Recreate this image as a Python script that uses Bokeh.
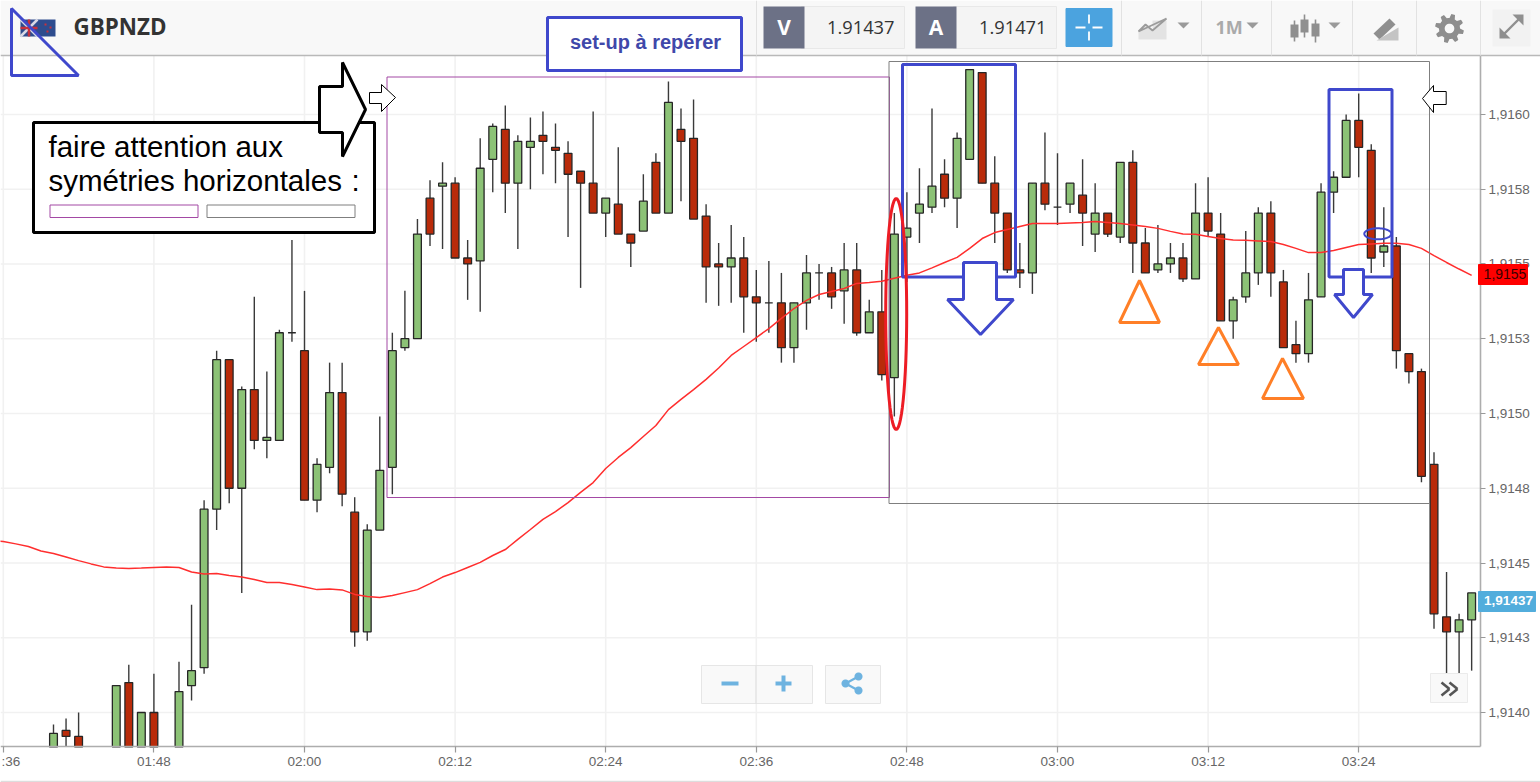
import numpy as np
from bokeh.embed import file_html
from bokeh.resources import INLINE
from bokeh.plotting import figure
from bokeh.models import ColumnDataSource, FixedTicker, Label, PolyAnnotation

# ---------- data ----------
minutes = [100,101,102,105,106,107,108] + list(range(110, 214))
opens = [1.91384,1.91394,1.91392,1.91384,1.91410,1.91384,1.91400,1.91384,1.91409,1.91415,1.91468,1.91518,1.91475,1.91508,1.91491,1.91491,1.91527,1.91521,1.91471,1.91482,1.91507,1.91467,1.91427,1.91461,1.91482,1.91522,1.91525,1.91572,1.91576,1.91577,1.91552,1.91551,1.91585,1.91595,1.91577,1.91589,1.91593,1.91589,1.91587,1.91581,1.91577,1.91567,1.91570,1.91560,1.91561,1.91584,1.91567,1.91595,1.91592,1.91566,1.91550,1.91549,1.91552,1.91539,1.91537,1.91537,1.91522,1.91537,1.91547,1.91547,1.91541,1.91548,1.91527,1.91534,1.91512,1.91559,1.91567,1.91569,1.91580,1.91572,1.91585,1.91614,1.91577,1.91567,1.91548,1.91547,1.91577,1.91569,1.91570,1.91573,1.91560,1.91567,1.91559,1.91584,1.91557,1.91548,1.91550,1.91552,1.91545,1.91567,1.91560,1.91531,1.91539,1.91547,1.91567,1.91544,1.91523,1.91520,1.91539,1.91574,1.91579,1.91598,1.91588,1.91554,1.91556,1.91520,1.91514,1.91483,1.91432,1.91427,1.91431]
highs = [1.91396,1.91398,1.91400,1.91409,1.91416,1.91400,1.91413,1.91417,1.91436,1.91471,1.91521,1.91518,1.91509,1.91539,1.91514,1.91528,1.91558,1.91541,1.91485,1.91517,1.91517,1.91472,1.91463,1.91499,1.91527,1.91541,1.91565,1.91578,1.91584,1.91579,1.91558,1.91592,1.91597,1.91603,1.91593,1.91599,1.91601,1.91597,1.91591,1.91581,1.91601,1.91572,1.91589,1.91560,1.91580,1.91587,1.91611,1.91602,1.91605,1.91570,1.91557,1.91563,1.91559,1.91548,1.91551,1.91547,1.91537,1.91553,1.91550,1.91549,1.91557,1.91557,1.91538,1.91548,1.91567,1.91574,1.91582,1.91602,1.91585,1.91594,1.91615,1.91614,1.91586,1.91567,1.91557,1.91577,1.91594,1.91587,1.91577,1.91585,1.91577,1.91567,1.91584,1.91588,1.91562,1.91563,1.91557,1.91557,1.91577,1.91579,1.91567,1.91539,1.91561,1.91569,1.91571,1.91548,1.91531,1.91547,1.91577,1.91581,1.91600,1.91607,1.91590,1.91569,1.91559,1.91520,1.91515,1.91487,1.91447,1.91433,1.91440]
lows = [1.91380,1.91380,1.91380,1.91380,1.91380,1.91380,1.91380,1.91380,1.91404,1.91413,1.91461,1.91470,1.91440,1.91488,1.91485,1.91491,1.91524,1.91471,1.91467,1.91480,1.91469,1.91422,1.91424,1.91461,1.91473,1.91521,1.91525,1.91556,1.91555,1.91552,1.91538,1.91534,1.91574,1.91567,1.91555,1.91575,1.91580,1.91577,1.91559,1.91542,1.91567,1.91559,1.91560,1.91549,1.91561,1.91567,1.91567,1.91571,1.91565,1.91537,1.91536,1.91537,1.91527,1.91524,1.91527,1.91517,1.91517,1.91528,1.91538,1.91535,1.91530,1.91526,1.91527,1.91511,1.91499,1.91544,1.91557,1.91567,1.91569,1.91562,1.91585,1.91577,1.91557,1.91547,1.91542,1.91540,1.91568,1.91563,1.91567,1.91556,1.91554,1.91559,1.91557,1.91547,1.91547,1.91547,1.91547,1.91544,1.91545,1.91559,1.91531,1.91525,1.91537,1.91543,1.91539,1.91522,1.91517,1.91517,1.91539,1.91567,1.91579,1.91579,1.91547,1.91549,1.91515,1.91510,1.91477,1.91428,1.91413,1.91413,1.91414]
closes = [1.91393,1.91392,1.91384,1.91409,1.91384,1.91400,1.91384,1.91407,1.91414,1.91468,1.91518,1.91475,1.91508,1.91491,1.91492,1.91527,1.91527,1.91471,1.91483,1.91507,1.91473,1.91427,1.91461,1.91481,1.91521,1.91525,1.91560,1.91560,1.91577,1.91552,1.91550,1.91582,1.91596,1.91577,1.91591,1.91591,1.91591,1.91588,1.91580,1.91577,1.91567,1.91572,1.91560,1.91557,1.91571,1.91567,1.91604,1.91591,1.91565,1.91549,1.91549,1.91552,1.91539,1.91537,1.91537,1.91522,1.91537,1.91547,1.91547,1.91539,1.91548,1.91527,1.91534,1.91513,1.91560,1.91562,1.91570,1.91576,1.91572,1.91592,1.91615,1.91577,1.91567,1.91548,1.91547,1.91577,1.91570,1.91569,1.91577,1.91567,1.91567,1.91560,1.91584,1.91557,1.91547,1.91550,1.91552,1.91545,1.91567,1.91561,1.91531,1.91538,1.91547,1.91567,1.91547,1.91522,1.91520,1.91538,1.91574,1.91579,1.91598,1.91589,1.91552,1.91556,1.91521,1.91514,1.91479,1.91433,1.91427,1.91431,1.91440]

ma_minutes = list(range(95, 215))
ma_values = [1.914575,1.914572,1.914564,1.914555,1.914540,1.914532,1.914520,1.914508,1.914497,1.914487,1.914483,1.914482,1.914483,1.914485,1.914487,1.914485,1.914470,1.914463,1.914465,1.914458,1.914453,1.914445,1.914435,1.914435,1.914428,1.914420,1.914411,1.914413,1.914410,1.914395,1.914388,1.914385,1.914391,1.914401,1.914411,1.914431,1.914453,1.914468,1.914485,1.914502,1.914525,1.914545,1.914579,1.914612,1.914646,1.914672,1.914702,1.914736,1.914769,1.914816,1.914853,1.914886,1.914923,1.914960,1.915013,1.915047,1.915080,1.915114,1.915152,1.915194,1.915224,1.915254,1.915284,1.915318,1.915351,1.915378,1.915398,1.915408,1.915418,1.915435,1.915438,1.915442,1.915452,1.915462,1.915470,1.915487,1.915505,1.915522,1.915552,1.915585,1.915605,1.915615,1.915625,1.915635,1.915635,1.915635,1.915637,1.915639,1.915642,1.915639,1.915635,1.915630,1.915625,1.915619,1.915609,1.915600,1.915599,1.915592,1.915585,1.915580,1.915579,1.915577,1.915575,1.915565,1.915552,1.915538,1.915538,1.915545,1.915555,1.915565,1.915567,1.915569,1.915569,1.915565,1.915552,1.915528,1.915505,1.915483,1.915462,1.915452]

y_ticks = [1.9140,1.91425,1.9145,1.91475,1.9150,1.91525,1.9155,1.91575,1.9160]
y_tick_labels = ["1,9140","1,9143","1,9145","1,9148","1,9150","1,9153","1,9155","1,9158","1,9160"]
x_ticks = [96,108,120,132,144,156,168,180,192,204]
x_tick_labels = ["","01:48","02:00","02:12","02:24","02:36","02:48","03:00","03:12","03:24"]

GREEN, RED = "#8CC276", "#B92B0A"
BLUE, ORANGE, PURPLE, GREY = "#3F48CC", "#FF7F27", "#A349A4", "#7F7F7F"

# ---------- figure: the frame fills the canvas; axes are fixed at the chart's edges ----------
W, H = 1540, 782
T_LEFT, T_AXIS, T_RIGHT = 95.777, 213.70, 218.486
P_TOP, P_CHART_TOP, P_AXIS, P_BOTTOM = 1.916381, 1.916197, 1.913885, 1.913766
p = figure(width=W, height=H, output_backend="svg", toolbar_location=None,
           x_range=(T_LEFT, T_RIGHT), y_range=(P_BOTTOM, P_TOP),
           min_border=0, x_axis_location="below", y_axis_location="right",
           background_fill_color="white", border_fill_color="white", outline_line_color=None)
p.grid.visible = False

for ax, ticks, labels in ((p.xaxis[0], x_ticks, x_tick_labels), (p.yaxis[0], y_ticks, y_tick_labels)):
    ax.ticker = FixedTicker(ticks=ticks)
    ax.major_label_overrides = dict(zip(ticks, labels))
    ax.axis_line_color = "#ADADAD"
    ax.axis_line_width = 1.6
    ax.major_tick_line_color = "#999999"
    ax.major_tick_line_width = 1.2
    ax.major_tick_in = 0
    ax.minor_tick_line_color = None
    ax.major_label_text_font = "Liberation Sans"
    ax.major_label_text_font_size = "13.5px"
    ax.major_label_text_color = "#666666"
p.xaxis[0].fixed_location = P_AXIS
p.xaxis[0].bounds = (T_LEFT, T_AXIS)
p.xaxis[0].major_tick_out = 6
p.xaxis[0].major_label_standoff = 1
p.yaxis[0].fixed_location = T_AXIS
p.yaxis[0].bounds = (P_AXIS, P_CHART_TOP)
p.yaxis[0].major_tick_out = 5
p.yaxis[0].major_label_standoff = 3

# grid limited to the chart area
p.segment(x_ticks, [P_AXIS] * len(x_ticks), x_ticks, [P_CHART_TOP] * len(x_ticks),
          line_color="#F1F1F1", line_width=1.6)
p.segment([T_LEFT] * len(y_ticks), y_ticks, [T_AXIS] * len(y_ticks), y_ticks,
          line_color="#F1F1F1", line_width=1.6)

# ---------- candles (cut at the time axis, as in the chart) ----------
t = np.array(minutes, dtype=float)
o, h, l, c = map(np.array, (opens, highs, lows, closes))
src = ColumnDataSource(dict(
    t=t, high=h, low=np.maximum(l, P_AXIS),
    top=np.maximum(o, c), bottom=np.maximum(np.minimum(o, c), P_AXIS),
    color=[GREEN if ci >= oi else RED for oi, ci in zip(opens, closes)]))
p.segment("t", "high", "t", "low", source=src, line_color="#3A3A3A", line_width=1.4)
p.vbar(x="t", top="top", bottom="bottom", width=0.62, source=src,
       fill_color="color", line_color="#262626", line_width=1.3)
ma_keep = [m <= T_AXIS + 0.01 for m in ma_minutes]
p.line([m for m, k in zip(ma_minutes, ma_keep) if k], [v for v, k in zip(ma_values, ma_keep) if k],
       line_color="#FF2E2E", line_width=1.5)

# ---------- drawn overlays (canvas pixels) ----------
def poly(xs, ys, fill=None, line=None, lw=1.0):
    p.add_layout(PolyAnnotation(xs=list(map(float, xs)), ys=list(map(float, ys)),
                                xs_units="canvas", ys_units="canvas",
                                fill_color=fill or "white", fill_alpha=1 if fill else 0,
                                line_color=line or "white", line_alpha=1 if line else 0,
                                line_width=lw))

def rect(x0, y0, x1, y1, fill=None, line=None, lw=1.0):
    poly([x0, x1, x1, x0], [y0, y0, y1, y1], fill, line, lw)

def seg(x0, y0, x1, y1, line, lw=1.0):
    poly([x0, x1], [y0, y1], None, line, lw)

def ellipse(cx, cy, rx, ry, fill=None, line=None, lw=1.0):
    a = np.linspace(0, 2 * np.pi, 60, endpoint=False)
    poly(cx + rx * np.cos(a), cy + ry * np.sin(a), fill, line, lw)

def label(x, y, text, size, color, font="Liberation Sans", style="normal", align="left"):
    # y is the wanted text baseline in canvas pixels; the label sits a little lower than its anchor
    shift = 0.3 * size + 2
    p.add_layout(Label(x=x, y=H - (y - shift), x_units="screen", y_units="screen", text=text,
                       text_font=font, text_font_size=f"{size}px", text_font_style=style,
                       text_color=color, text_align=align, text_baseline="alphabetic"))

# top bar
BAR = "#F8F8F8"
rect(0, 0, 1540, 55, fill=BAR)
seg(0, 55, 1540, 55, "#B9B9B9", 1.5)
seg(0, 781, 1540, 781, "#DDDDDD", 1.5)
for sx in (756, 1121, 1201, 1271, 1352, 1416, 1480):
    seg(sx, 0, sx, 55, "#E2E2E2", 1)
label(1, 767, ":36", 13.5, "#666666")

# flag
rect(20, 19, 55, 36, fill="#2E4C8E")
seg(20, 19, 37, 36, "#D9D9E6", 2.5)
seg(37, 19, 20, 36, "#D9D9E6", 2.5)
seg(28.5, 19, 28.5, 36, "#C8303C", 2.5)
seg(20, 27.5, 37, 27.5, "#C8303C", 2.5)
for fx, fy in ((45, 24), (50, 27), (47, 31)):
    rect(fx - 1, fy - 1, fx + 1, fy + 1, fill="#C8303C")
label(73, 35, "GBPNZD", 22.4, "#333333", font="Open Sans", style="bold")
poly([11, 11, 78], [8, 75, 75], None, BLUE, 3)

# quote boxes
for x0, text_a, text_v, xr in ((763, "V", "1.91437", 894), (915, "A", "1.91471", 1046)):
    rect(x0 + 38, 6, x0 + 141, 48, fill="#F4F4F4", line="#E8E8E8", lw=1)
    rect(x0, 6, x0 + 41, 48, fill="#6C7186")
    label(x0 + 20.5, 35, text_a, 21, "white", font="Open Sans", style="bold", align="center")
    label(xr, 34, text_v, 18.3, "#333333", font="Open Sans", align="right")

# crosshair button
rect(1065.5, 8, 1111.5, 46, fill="#4BA3DF", line="#4BA3DF", lw=1)
for a, b, cc, d in ((1075, 27, 1085, 27), (1092, 27, 1102, 27), (1088.5, 14, 1088.5, 23), (1088.5, 31, 1088.5, 40)):
    seg(a, b, cc, d, "white", 1.8)

# chart-type icon
poly([1138, 1145, 1152, 1152, 1166, 1166, 1138], [30, 24, 29, 20, 20, 39, 39], fill="#E3E3E3")
poly([1138, 1145, 1152, 1159, 1166], [31, 24, 30, 24, 18], None, "#9B9B9B", 1.8)
CARET = "#9A9A9A"
for cx in (1183, 1252, 1334):
    poly([cx - 6, cx + 6, cx], [22, 22, 28], fill=CARET)
label(1215, 34, "1M", 18, "#AAAAAA", font="Open Sans", style="bold")

# candle icon
for cx, y0, y1, w0, w1 in ((1294, 24, 37, 20, 41), (1304, 19, 32, 14, 37), (1315, 23, 36, 19, 42)):
    seg(cx, w0, cx, w1, "#8F8F8F", 1.6)
    rect(cx - 4, y0, cx + 4, y1, fill="#8F8F8F")

# pen icon
poly([1373, 1389, 1395, 1379], [33, 18, 24, 39], fill="#8F8F8F")
poly([1376, 1398, 1398, 1376], [40, 27, 40, 40], fill="#C4C4C4")

# gear
ang = np.linspace(0, 2 * np.pi, 48, endpoint=False)
rad = np.where((np.arange(48) % 6) < 3, 14.5, 10.5)
poly(1449 + rad * np.cos(ang + 0.13), 28 + rad * np.sin(ang + 0.13), fill="#8E8E8E")
ellipse(1449, 28, 4.8, 4.8, fill=BAR)

# expand button
rect(1492, 9, 1530, 46, fill="#F2F2F2")
poly([1512, 1523, 1523], [14, 14, 25], fill="#8F8F8F")
poly([1499, 1510, 1499], [27, 38, 38], fill="#8F8F8F")
seg(1503, 34, 1519, 18, "#8F8F8F", 2.4)

# zoom / share buttons
rect(701, 665, 812, 703, fill="#F9F9F9", line="#E6E6E6", lw=1)
seg(755.5, 665, 755.5, 703, "#D9D9D9", 1)
rect(825, 665, 880, 703, fill="#F9F9F9", line="#E6E6E6", lw=1)
ICON = "#6EB3E0"
rect(721, 681, 738, 685, fill=ICON)
rect(775, 681, 791, 685, fill=ICON)
rect(781, 675, 785, 691, fill=ICON)
seg(845, 683, 858, 676, ICON, 2.2)
seg(845, 683, 858, 690, ICON, 2.2)
for sx, sy in ((858, 676), (845, 683), (858, 690)):
    ellipse(sx, sy, 4, 4, fill=ICON)

# >> button
rect(1430, 673, 1467, 702, fill="#F9F9F9", line="#EBEBEB", lw=1)
for dx in (0, 8):
    seg(1441 + dx, 682, 1449 + dx, 688.5, "#555555", 2.6)
    seg(1449 + dx, 688.5, 1441 + dx, 695, "#555555", 2.6)

# price tags
rect(1478, 264, 1527, 284, fill="#FF0000", line="#FF0000", lw=1)
label(1504.5, 280, "1,9155", 14, "#3A0000", align="center")
rect(1478, 591, 1535, 611, fill="#52ADDC", line="#52ADDC", lw=1)
label(1508, 606, "1,91437", 13.5, "white", style="bold", align="center")

# symmetry boxes
rect(386.5, 76.5, 889, 497, None, PURPLE, 1)
rect(888.5, 61, 1429, 503, None, GREY, 1)

# note box
rect(33, 122, 374, 232, fill="white", line="black", lw=3)
label(48, 157, "faire attention aux", 29.5, "black")
label(48, 191, "symétries horizontales", 29.5, "black")
label(351, 191, ":", 29.5, "black")
rect(49.5, 204.5, 197.5, 217, None, PURPLE, 1)
rect(206.5, 204.5, 354.5, 217, None, GREY, 1)
poly([319, 342, 342, 365, 342, 342, 319], [86, 86, 62, 109, 156, 132, 132], "white", "black", 3)
poly([369, 381, 381, 395, 381, 381, 369], [92, 92, 84, 97, 111, 103, 103], "white", "black", 1)
poly([1445.7, 1433, 1433, 1422, 1433, 1433, 1445.7], [91, 91, 85, 98, 112, 104, 104], "white", "black", 1)

# set-up box
rect(547, 17, 741, 70, fill="white", line=BLUE, lw=3)
label(645, 49, "set-up à repérer", 20, "#3F48AA", style="bold", align="center")

# signal marks
rect(902, 64, 1015, 276.5, None, BLUE, 3)
rect(1328.5, 89, 1391.5, 276.5, None, BLUE, 3)
poly([963, 996, 996, 1013, 980, 947, 963], [262, 262, 299, 299, 334, 299, 299], "white", BLUE, 3)
poly([1343, 1363, 1363, 1372, 1353, 1334, 1343], [269, 269, 294, 294, 317, 294, 294], "white", BLUE, 3)
ellipse(1377.3, 233.3, 13.5, 5.5, None, BLUE, 2)
ellipse(895.7, 313.5, 10.5, 115.5, None, "#ED1C24", 3)
for xs, ys in (([1119, 1139, 1159], [322, 280, 322]),
               ([1198, 1218, 1238], [364, 327, 364]),
               ([1262, 1282, 1303], [398, 358, 398])):
    poly(xs, ys, None, ORANGE, 3)

open("out.html", "w").write(file_html(p, INLINE))
